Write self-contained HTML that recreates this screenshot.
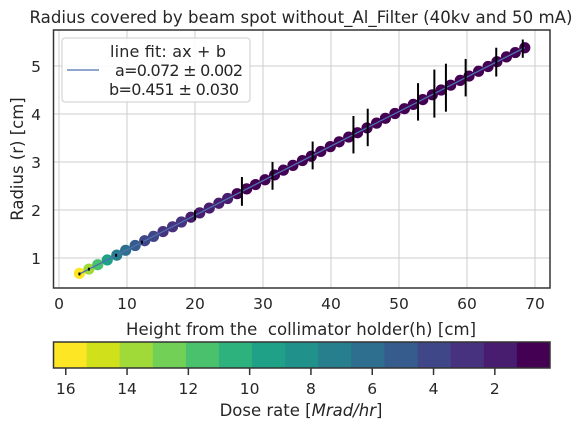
<!DOCTYPE html>
<html><head><meta charset="utf-8"><style>
body{margin:0;background:#fff}
svg{display:block;font-family:"DejaVu Sans","Liberation Sans",sans-serif}
</style></head><body>
<svg id="chart" width="584" height="430" viewBox="0 0 584 430">
<rect width="584" height="430" fill="#fff"/>
<text x="301" y="23" font-size="16.6" text-anchor="middle" fill="#262626" textLength="543">Radius covered by beam spot without_Al_Filter (40kv and 50 mA)</text>
<g id="grid"></g>
<g id="fit"></g>
<g id="points"></g>
<g id="errs"></g>
<rect x="53.5" y="30" width="496.5" height="258" fill="none" stroke="#333" stroke-width="1.5"/>
<g id="xticks"></g><g id="yticks"></g>
<text x="301" y="335" font-size="16.5" text-anchor="middle" fill="#262626" textLength="350">Height from the&#160; collimator holder(h) [cm]</text>
<text transform="translate(23,159) rotate(-90)" font-size="16.5" text-anchor="middle" fill="#262626">Radius (r) [cm]</text>
<g>
<rect x="62" y="38" width="188" height="64" rx="3" fill="#fff" fill-opacity="0.85" stroke="#ccc"/>
<line x1="67" y1="70" x2="99" y2="70" stroke="#4c72b0" stroke-width="1.2"/>
<text x="168" y="57" font-size="16" text-anchor="middle" fill="#262626" textLength="116">line fit: ax + b</text>
<text x="179" y="76" font-size="16" text-anchor="middle" fill="#262626" textLength="128">a=0.072 ± 0.002</text>
<text x="174" y="95" font-size="16" text-anchor="middle" fill="#262626" textLength="130">b=0.451 ± 0.030</text>
</g>
<g id="cbar"></g>
<text x="301" y="416" font-size="16.5" text-anchor="middle" fill="#262626">Dose rate [<tspan font-style="italic">Mrad/hr</tspan>]</text>
</svg>
<script>
const heights=[3.0,4.4,5.7,7.1,8.5,9.8,11.2,12.6,13.9,15.3,16.7,18.0,19.4,20.7,22.1,23.5,24.8,26.2,27.6,28.9,30.3,31.7,33.0,34.4,35.8,37.1,38.5,39.9,41.2,42.6,43.9,45.3,46.7,48.0,49.4,50.8,52.1,53.5,54.9,56.2,57.6,59.0,60.3,61.7,63.1,64.4,65.8,67.1,68.5];
const radii=[0.68,0.77,0.86,0.96,1.06,1.16,1.26,1.36,1.45,1.55,1.65,1.75,1.85,1.94,2.04,2.14,2.24,2.34,2.44,2.53,2.63,2.73,2.83,2.93,3.03,3.12,3.22,3.32,3.42,3.52,3.61,3.71,3.81,3.91,4.01,4.11,4.20,4.30,4.40,4.50,4.60,4.70,4.79,4.89,4.99,5.09,5.19,5.28,5.38];
const doses=[16.2,13.5,11.0,9.0,7.5,6.3,5.3,4.5,3.9,3.4,3.0,2.6,2.3,2.0,1.8,1.6,1.4,1.2,1.1,1.0,0.95,0.9,0.85,0.8,0.75,0.7,0.65,0.6,0.55,0.5,0.5,0.45,0.45,0.4,0.4,0.35,0.35,0.3,0.3,0.3,0.25,0.25,0.25,0.2,0.2,0.2,0.2,0.15,0.15];
const errX=[3,4.4,8.4,12.2,20,26.9,31.4,37.3,43.3,45.4,52.8,55.2,56.9,59.8,64.3,68.2];
const errHalf=[0.03,0.03,0.03,0.03,0.1,0.3,0.29,0.29,0.39,0.39,0.39,0.5,0.5,0.39,0.3,0.19];
const fitA=0.072, fitB=0.451;
const xTicks=[0,10,20,30,40,50,60,70];
const yTicks=[1,2,3,4,5];
const cbTicks=[16,14,12,10,8,6,4,2];
const palette=["#fde725","#d0e11c","#a0da39","#73d056","#4ac16d","#2db27d","#1fa187","#21918c","#277f8e","#2e6e8e","#365c8d","#3f4788","#46327e","#481c6e","#440154"];
const NS="http://www.w3.org/2000/svg";
const X=v=>59+v*6.8, Y=v=>258-(v-1)*48;
const cbMin=0.2,cbMax=16.4,cbL=53.5,cbR=550;
const C=v=>cbL+(cbMax-v)/(cbMax-cbMin)*(cbR-cbL);
function mk(t,a,p){const e=document.createElementNS(NS,t);for(const k in a)e.setAttribute(k,a[k]);p.appendChild(e);return e;}
function colorFor(d){let i=Math.floor((cbMax-d)/(cbMax-cbMin)*palette.length);i=Math.max(0,Math.min(palette.length-1,i));return palette[i];}
const g=document.getElementById('grid'),xt=document.getElementById('xticks'),yt=document.getElementById('yticks');
xTicks.forEach(v=>{const l=mk('line',{x1:X(v),x2:X(v),y1:30,y2:288,stroke:'#cccccc','stroke-width':1},g);

const t=mk('text',{x:X(v),y:309,'font-size':15.5,'text-anchor':'middle',fill:'#262626'},xt);t.textContent=v;
});
yTicks.forEach(v=>{const l=mk('line',{x1:53.5,x2:550,y1:Y(v),y2:Y(v),stroke:'#cccccc','stroke-width':1},g);

const t=mk('text',{x:41,y:Y(v)+6,'font-size':15.5,'text-anchor':'end',fill:'#262626'},yt);t.textContent=v;
});
const pg=document.getElementById('points');
heights.forEach((h,i)=>{const c=mk('circle',{cx:X(h),cy:Y(radii[i]),r:5.6,fill:colorFor(doses[i])},pg);
});
const h0=heights[0],h1=heights[heights.length-1];
const fl=mk('line',{x1:X(h0),y1:Y(fitA*h0+fitB),x2:X(h1),y2:Y(fitA*h1+fitB),stroke:'#4c72b0','stroke-width':1.3},document.getElementById('fit'));

document.getElementById('chart').insertBefore(document.getElementById('fit'),document.getElementById('errs'));
const eg=document.getElementById('errs');
errX.forEach((x,i)=>{const yc=fitA*x+fitB;const l=mk('line',{x1:X(x),x2:X(x),y1:Y(yc+errHalf[i]),y2:Y(yc-errHalf[i]),stroke:'#000','stroke-width':2},eg);
});
const cb=document.getElementById('cbar');
const w=(cbR-cbL)/palette.length;
palette.forEach((col,i)=>{const r=mk('rect',{x:cbL+i*w,y:342,width:w+0.5,height:26,fill:col},cb);
});
const fr=mk('rect',{x:cbL,y:342,width:cbR-cbL,height:26,fill:'none',stroke:'#333','stroke-width':1.5},cb);

cbTicks.forEach(v=>{const l=mk('line',{x1:C(v),x2:C(v),y1:368,y2:375,stroke:'#333','stroke-width':1.5},cb);

const t=mk('text',{x:C(v),y:394,'font-size':15.5,'text-anchor':'middle',fill:'#262626'},cb);t.textContent=v;
});
</script>
</body></html>
